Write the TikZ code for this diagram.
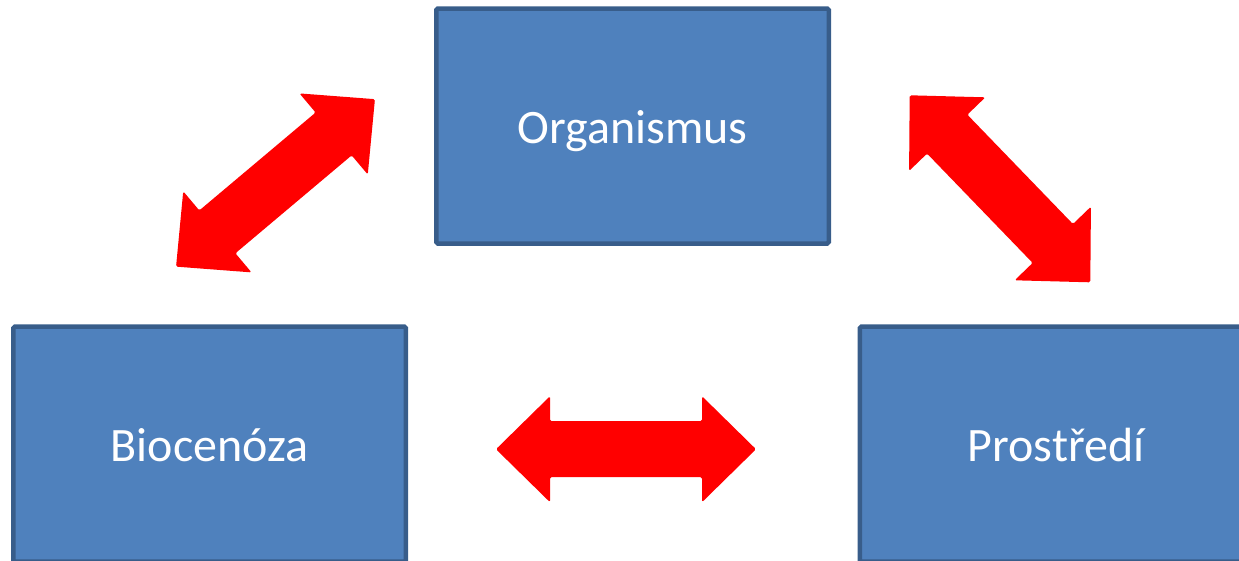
\documentclass[tikz,border=0pt]{standalone}
\usepackage{fontspec}
\setmainfont{Carlito}
\definecolor{boxfill}{HTML}{4F81BD}
\definecolor{boxline}{HTML}{385D8A}
\definecolor{arrred}{HTML}{FF0000}
\tikzset{
  x=1pt, y=-1pt,
  bluebox/.style={draw=boxline, fill=boxfill, line width=4.5pt, rounded corners=1.5pt,
    minimum width=392.5pt, minimum height=235pt, inner sep=0pt,
    text=white, font=\fontsize{48}{58}\selectfont, text height=34pt, text depth=0pt},
  dblarr/.pic={
    \fill[arrred, rounded corners=1.5pt] (-130,0) -- (-76,-53) -- (-76,-28) -- (76,-28) -- (76,-53)
      -- (130,0) -- (76,53) -- (76,28) -- (-76,28) -- (-76,53) -- cycle;
  }
}
\begin{document}
\begin{tikzpicture}
\useasboundingbox (0,0) rectangle (1239,560);
\clip (0,0) rectangle (1239,560);
\node[bluebox] (org) at (632.5,126) {Organismus};
\node[bluebox] (bio) at (209.6,444.2) {Biocenóza};
\node[bluebox] (env) at (1056,444.2) {Prostředí};
\pic[rotate=40.1] (a1) at (275.5,182.9) {dblarr};
\pic[rotate=-46.0] (a2) at (1000,188.8) {dblarr};
\pic (a3) at (626,449.2) {dblarr};
\end{tikzpicture}
\end{document}
